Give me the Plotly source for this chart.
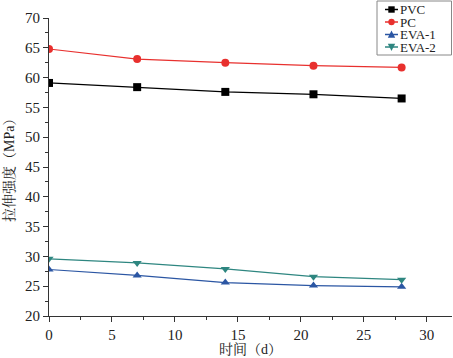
import plotly.graph_objects as go

days = [0, 7, 14, 21, 28]
pvc = [59.1, 58.4, 57.6, 57.2, 56.5]
pc = [64.8, 63.1, 62.5, 62.0, 61.7]
eva1 = [27.8, 26.8, 25.6, 25.1, 24.9]
eva2 = [29.6, 28.9, 27.9, 26.6, 26.1]

names = ["PVC", "PC", "EVA-1", "EVA-2"]
colors = ["#000000", "#e8302e", "#2b56a3", "#2e8680"]
symbols = ["square", "circle", "triangle-up", "triangle-down"]
values = [pvc, pc, eva1, eva2]

fig = go.Figure()
for name, ys, col, sym in zip(names, values, colors, symbols):
    fig.add_trace(go.Scatter(x=days, y=ys, name=name, mode="lines+markers",
                             line=dict(color=col, width=1.2),
                             marker=dict(symbol=sym, color=col, size=8),
                             showlegend=False))

font = "Liberation Serif, Times New Roman, Noto Serif CJK SC, Noto Sans CJK SC, serif"
axis_common = dict(showline=True, linecolor="#333", linewidth=1.2, ticks="outside",
                   ticklen=5, tickwidth=1, tickcolor="#333", showgrid=False, zeroline=False,
                   automargin=False,
                   tickfont=dict(family=font, size=15, color="#222"))

# compact legend drawn at the top-right corner (pixel offsets from the plot's top-right)
shapes = [dict(type="rect", xref="paper", yref="paper", xsizemode="pixel", ysizemode="pixel",
               xanchor=1, yanchor=1, x0=-75, x1=-0.5, y0=17, y1=-37,
               line=dict(color="#888", width=1), fillcolor="white", layer="above")]
annotations = []
row_y = [8.5, -4.0, -16.5, -29.0]
for name, col, sym, ry in zip(names, colors, symbols, row_y):
    shapes.append(dict(type="line", xref="paper", yref="paper", xsizemode="pixel", ysizemode="pixel",
                       xanchor=1, yanchor=1, x0=-67, x1=-54, y0=ry, y1=ry,
                       line=dict(color=col, width=1.5), layer="above"))
    cx, s = -60.5, 3.2
    if sym == "square":
        shapes.append(dict(type="rect", xref="paper", yref="paper", xsizemode="pixel", ysizemode="pixel",
                           xanchor=1, yanchor=1, x0=cx - s, x1=cx + s, y0=ry - s, y1=ry + s,
                           line=dict(color=col, width=0), fillcolor=col, layer="above"))
    elif sym == "circle":
        shapes.append(dict(type="circle", xref="paper", yref="paper", xsizemode="pixel", ysizemode="pixel",
                           xanchor=1, yanchor=1, x0=cx - s, x1=cx + s, y0=ry - s, y1=ry + s,
                           line=dict(color=col, width=0), fillcolor=col, layer="above"))
    else:
        d = 1 if sym == "triangle-up" else -1
        path = f"M{cx - s - 0.5},{ry - d * s} L{cx + s + 0.5},{ry - d * s} L{cx},{ry + d * (s + 0.8)} Z"
        shapes.append(dict(type="path", xref="paper", yref="paper", xsizemode="pixel", ysizemode="pixel",
                           xanchor=1, yanchor=1, path=path,
                           line=dict(color=col, width=0), fillcolor=col, layer="above"))
    annotations.append(dict(text=name, xref="paper", yref="paper", x=1, y=1, xshift=-53, yshift=ry,
                            xanchor="left", yanchor="middle", showarrow=False, height=11,
                            borderpad=0, valign="middle",
                            font=dict(family=font, size=13, color="#222")))

annotations += [
    dict(text="时间（d）", xref="paper", yref="paper", x=0.5, y=0, yshift=-33,
         showarrow=False, xanchor="center", yanchor="middle",
         font=dict(family=font, size=14, color="#222")),
    dict(text="拉伸强度（MPa）", xref="paper", yref="paper", x=0, y=0.5, xshift=-40,
         textangle=-90, showarrow=False, xanchor="center", yanchor="middle",
         font=dict(family=font, size=14, color="#222")),
]

fig.update_layout(
    width=453, height=358,
    margin=dict(l=49, r=1, t=18, b=42),
    plot_bgcolor="white", paper_bgcolor="white",
    font=dict(family=font, color="#222"),
    xaxis=dict(range=[0, 32], tickvals=[0, 5, 10, 15, 20, 25, 30],
               minor=dict(ticks="outside", ticklen=3, dtick=2.5, tick0=0, tickcolor="#333"),
               **axis_common),
    yaxis=dict(range=[20, 70], tickvals=[20, 25, 30, 35, 40, 45, 50, 55, 60, 65, 70],
               minor=dict(ticks="outside", ticklen=3, dtick=2.5, tick0=20, tickcolor="#333"),
               **axis_common),
    showlegend=False,
    shapes=shapes,
    annotations=annotations,
)
fig.write_html("out.html", config={"displayModeBar": False},
               post_script="document.body.style.margin='0';document.body.style.padding='0';")
